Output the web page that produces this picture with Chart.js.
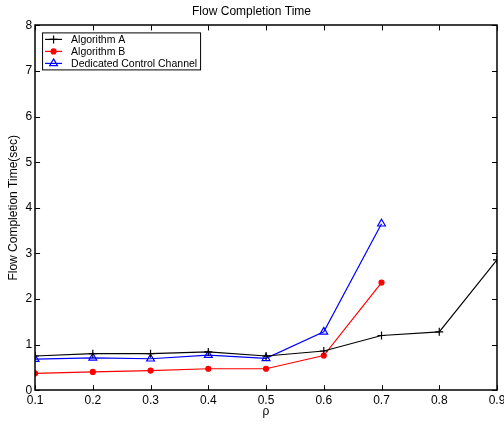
<!DOCTYPE html>
<html>
<head>
<meta charset="utf-8">
<script src="https://cdn.jsdelivr.net/npm/chart.js@4"></script>
<style>
  html, body { margin: 0; padding: 0; background: #fff; overflow: hidden; }
  #wrap { width: 504px; height: 424px; }
</style>
</head>
<body>
<div id="wrap"><canvas id="myChart" width="504" height="424"></canvas></div>
<script>
// data
const rho = [0.1, 0.2, 0.3, 0.4, 0.5, 0.6, 0.7, 0.8, 0.9];
const algorithmA = [0.75, 0.80, 0.80, 0.84, 0.75, 0.86, 1.20, 1.28, 2.86];
const algorithmB = [0.37, 0.40, 0.43, 0.47, 0.47, 0.76, 2.36];
const dedicated = [0.68, 0.71, 0.69, 0.77, 0.70, 1.28, 3.65];
const seriesNames = ['Algorithm A', 'Algorithm B', 'Dedicated Control Channel'];

const font = 'Liberation Sans, Arial, Helvetica, sans-serif';

function points(vals) {
    return vals.map((v, i) => ({ x: rho[i], y: v }));
}

// box round the plot + inward ticks, matlab style
const frame = {
    id: 'frame',
    afterDraw(chart) {
        const ctx = chart.ctx, a = chart.chartArea;
        const xs = chart.scales.x, ys = chart.scales.y;
        ctx.save();
        ctx.strokeStyle = '#000';
        ctx.lineWidth = 1;
        ctx.beginPath();
        xs.ticks.forEach(t => {
            const px = Math.round(xs.getPixelForValue(t.value)) + 0.5;
            ctx.moveTo(px, a.bottom); ctx.lineTo(px, a.bottom - 5);
            ctx.moveTo(px, a.top); ctx.lineTo(px, a.top + 5);
        });
        ys.ticks.forEach(t => {
            const py = Math.round(ys.getPixelForValue(t.value)) + 0.5;
            ctx.moveTo(a.left, py); ctx.lineTo(a.left + 5, py);
            ctx.moveTo(a.right, py); ctx.lineTo(a.right - 5, py);
        });
        ctx.stroke();
        ctx.lineWidth = 1.5;
        ctx.strokeRect(Math.round(a.left), Math.round(a.top), Math.round(a.right - a.left), Math.round(a.bottom - a.top));
        ctx.restore();
    }
};

// legend box inside the upper left corner
const boxLegend = {
    id: 'boxLegend',
    afterDraw(chart) {
        const ctx = chart.ctx, a = chart.chartArea;
        const x0 = a.left + 7, y0 = a.top + 7, w = 158, rowH = 12;
        const h = rowH * chart.data.datasets.length + 1;
        ctx.save();
        ctx.fillStyle = '#fff';
        ctx.fillRect(x0, y0, w, h);
        ctx.strokeStyle = '#000';
        ctx.lineWidth = 1;
        ctx.strokeRect(x0 + 0.5, y0 + 0.5, w, h);
        ctx.font = '10.5px ' + font;
        ctx.textBaseline = 'middle';
        chart.data.datasets.forEach((ds, i) => {
            const cy = y0 + 7 + i * rowH;
            ctx.strokeStyle = ds.borderColor;
            ctx.lineWidth = 1.2;
            ctx.beginPath();
            ctx.moveTo(x0 + 3, cy); ctx.lineTo(x0 + 20, cy);
            ctx.stroke();
            ctx.fillStyle = ds.pointBackgroundColor;
            ctx.strokeStyle = ds.borderColor;
            Chart.helpers.drawPoint(ctx, { pointStyle: ds.pointStyle, radius: ds.pointRadius, rotation: 0, borderWidth: 1.2 }, x0 + 11.5, cy);
            ctx.fillStyle = '#000';
            ctx.fillText(ds.label, x0 + 29, cy + 0.5);
        });
        ctx.restore();
    }
};

var ctx = document.getElementById('myChart');
var myChart = new Chart(ctx, {
    type: 'line',
    data: {
        datasets: [{
            label: seriesNames[0],
            data: points(algorithmA),
            borderColor: '#000000',
            pointBackgroundColor: '#000000',
            pointStyle: 'cross',
            pointRadius: 4,
            borderWidth: 1.2,
            pointBorderWidth: 1.2,
        }, {
            label: seriesNames[1],
            data: points(algorithmB),
            borderColor: '#ff0000',
            pointBackgroundColor: '#ff0000',
            pointStyle: 'circle',
            pointRadius: 2.5,
            borderWidth: 1.2,
            pointBorderWidth: 1.2,
        }, {
            label: seriesNames[2],
            data: points(dedicated),
            borderColor: '#0000ff',
            pointBackgroundColor: 'rgba(0,0,0,0)',
            pointStyle: 'triangle',
            pointRadius: 4.5,
            borderWidth: 1.2,
            pointBorderWidth: 1.2,
        }],
    },
    options: {
        responsive: false,
        animation: false,
        devicePixelRatio: 1,
        layout: { padding: { left: 6, right: 7, top: 0, bottom: 5 } },
        plugins: {
            legend: { display: false },
            tooltip: { enabled: false },
            title: {
                display: true,
                text: 'Flow Completion Time',
                color: '#000',
                font: { family: font, size: 12, weight: 'normal' },
                padding: { top: 4, bottom: 7 },
            },
        },
        scales: {
            x: {
                type: 'linear',
                min: 0.1,
                max: 0.9,
                grid: { display: false, drawTicks: false },
                border: { display: false },
                afterFit(scale) { scale.paddingRight = 0; scale.paddingLeft = 0; },
                ticks: {
                    stepSize: 0.1,
                    color: '#000',
                    padding: 3,
                    maxRotation: 0,
                    font: { family: font, size: 12 },
                    callback: v => v.toFixed(1),
                },
                title: {
                    display: true,
                    text: 'ρ',
                    color: '#000',
                    padding: { top: -6, bottom: 0 },
                    font: { family: font, size: 12 },
                },
            },
            y: {
                min: 0,
                max: 8,
                grid: { display: false, drawTicks: false },
                border: { display: false },
                ticks: {
                    stepSize: 1,
                    color: '#000',
                    padding: 3,
                    font: { family: font, size: 12 },
                },
                title: {
                    display: true,
                    text: 'Flow Completion Time(sec)',
                    color: '#000',
                    padding: { top: 0, bottom: 2 },
                    font: { family: font, size: 12 },
                },
            },
        },
    },
    plugins: [frame, boxLegend],
});
</script>
</body>
</html>
